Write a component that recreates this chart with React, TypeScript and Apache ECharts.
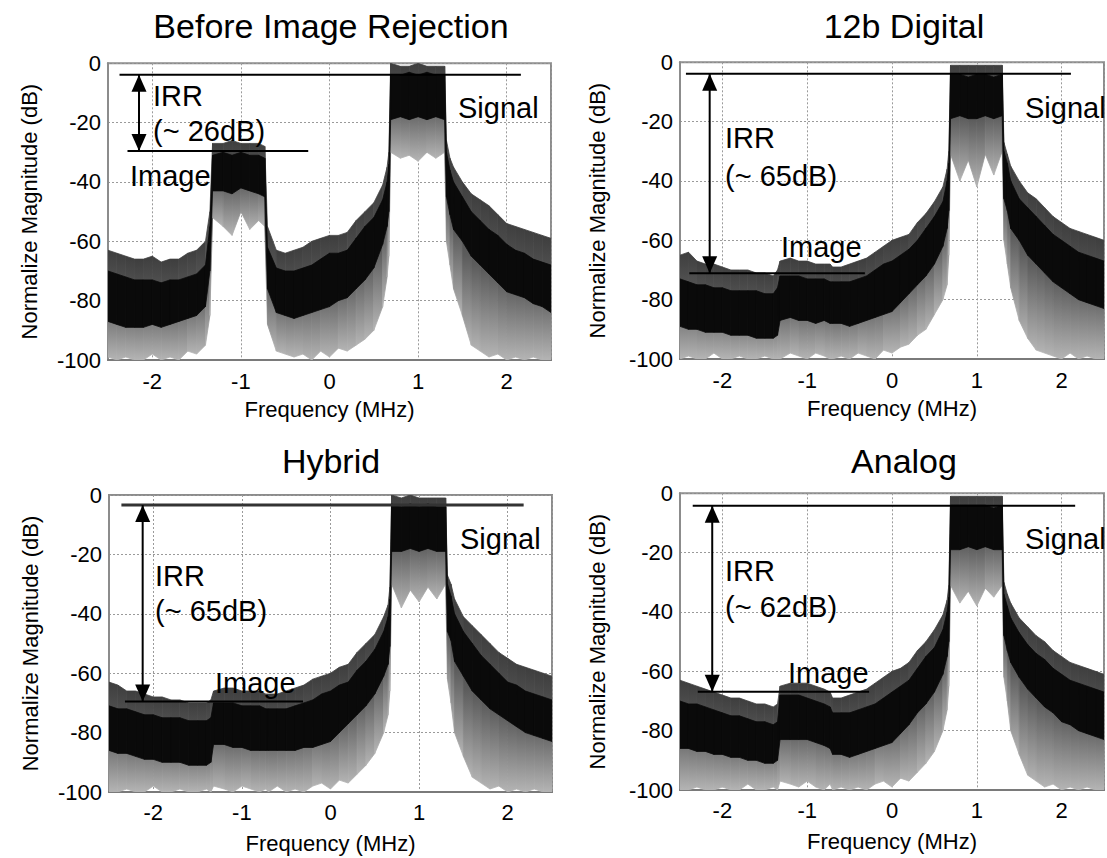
import React, { useEffect, useRef } from 'react';
import * as echarts from 'echarts';

const F = [-2.5, -2.4, -2.3, -2.2, -2.1, -2.0, -1.9, -1.8, -1.7, -1.6, -1.5, -1.4, -1.35, -1.32, -1.2, -1.1, -1.0, -0.9, -0.8, -0.73, -0.7, -0.6, -0.5, -0.4, -0.3, -0.2, -0.1, 0, 0.1, 0.2, 0.3, 0.4, 0.5, 0.6, 0.65, 0.67, 0.69, 0.8, 0.9, 1.0, 1.1, 1.2, 1.3, 1.32, 1.36, 1.4, 1.5, 1.6, 1.7, 1.8, 1.9, 2.0, 2.1, 2.2, 2.3, 2.4, 2.5];

// Panel 1: Before Image Rejection
const P1_CORE_HI = [-70, -71, -72, -73, -73, -73, -74, -73, -73, -72, -71, -68, -55, -31, -30, -31, -30, -31, -31, -32, -62, -69, -70, -70, -69, -68, -66, -64, -64, -63, -59, -55, -52, -46, -40, -34, -4, -4, -3, -4, -3, -4, -4, -30, -36, -40, -45, -50, -53, -56, -58, -61, -63, -64, -66, -67, -68];
const P1_CORE_LO = [-87, -88, -89, -89, -89, -88, -89, -88, -87, -86, -85, -82, -70, -43, -43, -44, -42, -43, -44, -45, -76, -84, -85, -86, -85, -84, -83, -82, -80, -79, -76, -73, -69, -61, -55, -50, -19, -18, -19, -18, -19, -18, -19, -45, -51, -56, -60, -65, -68, -71, -74, -77, -78, -79, -81, -82, -84];
const P1_GRAY_HI = [-63, -64, -65, -66, -66, -65, -67, -66, -66, -64, -63, -60, -50, -27, -27, -26, -27, -27, -27, -28, -55, -63, -64, -63, -62, -60, -59, -58, -58, -57, -53, -50, -47, -41, -35, -30, 0, -1, -1, 0, -1, -1, -1, -26, -32, -35, -40, -44, -46, -48, -51, -54, -55, -56, -57, -58, -59];
const P1_GRAY_LO = [-99, -100, -99, -100, -100, -98, -100, -99, -100, -97, -98, -95, -85, -52, -55, -58, -50, -56, -53, -55, -88, -97, -98, -99, -98, -100, -97, -99, -96, -97, -95, -93, -90, -82, -72, -65, -30, -32, -31, -33, -30, -32, -30, -60, -68, -76, -85, -95, -97, -99, -98, -100, -99, -100, -99, -100, -100];

// Panel 2: 12b Digital
const P2_CORE_HI = [-73, -74, -75, -75, -76, -76, -77, -77, -77, -77, -78, -78, -76, -72, -72, -72, -73, -73, -73, -74, -74, -74, -74, -73, -72, -70, -68, -67, -65, -63, -60, -56, -52, -47, -40, -34, -4, -4, -5, -4, -4, -5, -4, -30, -34, -40, -46, -49, -52, -55, -58, -60, -62, -64, -65, -66, -67];
const P2_CORE_LO = [-89, -90, -90, -91, -91, -91, -92, -92, -92, -93, -93, -93, -92, -87, -86, -87, -87, -88, -87, -88, -88, -88, -89, -88, -87, -86, -85, -84, -81, -78, -75, -72, -68, -62, -56, -50, -19, -18, -19, -19, -18, -19, -18, -46, -50, -56, -60, -65, -68, -71, -74, -76, -78, -80, -81, -82, -83];
const P2_GRAY_HI = [-65, -64, -67, -68, -68, -69, -70, -70, -70, -71, -71, -72, -70, -67, -66, -67, -67, -68, -68, -68, -69, -69, -68, -67, -66, -64, -62, -60, -59, -58, -54, -51, -47, -42, -36, -30, -1, -1, -1, -1, -1, -1, -1, -27, -31, -35, -40, -44, -46, -49, -52, -54, -56, -57, -58, -59, -60];
const P2_GRAY_LO = [-100, -99, -100, -100, -98, -100, -100, -99, -100, -100, -99, -100, -100, -100, -98, -99, -100, -98, -99, -100, -100, -99, -100, -98, -99, -100, -97, -98, -96, -95, -92, -90, -85, -80, -75, -65, -31, -40, -33, -42, -31, -38, -30, -60, -68, -76, -87, -93, -97, -98, -99, -100, -98, -100, -99, -100, -100];

// Panel 3: Hybrid
const P3_CORE_HI = [-71, -72, -72, -73, -74, -74, -75, -75, -75, -76, -76, -76, -75, -70, -70, -70, -71, -71, -71, -72, -72, -72, -72, -71, -70, -69, -67, -66, -64, -63, -59, -56, -52, -46, -41, -35, -3, -4, -3, -4, -3, -4, -4, -30, -34, -40, -46, -50, -54, -57, -60, -63, -64, -66, -67, -68, -69];
const P3_CORE_LO = [-86, -87, -87, -88, -89, -89, -90, -90, -90, -91, -91, -91, -90, -84, -84, -85, -85, -86, -86, -86, -86, -86, -86, -86, -85, -85, -84, -83, -80, -77, -74, -71, -67, -61, -57, -51, -19, -19, -18, -19, -18, -19, -19, -46, -49, -56, -61, -66, -69, -72, -74, -76, -78, -80, -81, -82, -83];
const P3_GRAY_HI = [-63, -64, -66, -66, -67, -68, -68, -69, -69, -70, -70, -70, -69, -66, -65, -65, -66, -66, -66, -67, -67, -67, -66, -65, -64, -62, -61, -60, -58, -57, -53, -50, -47, -41, -37, -31, 0, -1, 0, -1, -1, -1, -1, -27, -30, -35, -41, -44, -47, -50, -53, -55, -57, -58, -59, -60, -61];
const P3_GRAY_LO = [-100, -100, -99, -100, -100, -98, -100, -100, -99, -100, -100, -99, -100, -98, -99, -100, -98, -99, -100, -99, -100, -98, -100, -99, -100, -98, -97, -99, -96, -97, -94, -91, -87, -80, -74, -66, -30, -38, -32, -36, -31, -35, -30, -62, -70, -80, -88, -95, -97, -99, -98, -100, -99, -100, -99, -100, -100];

// Panel 4: Analog
const P4_CORE_HI = [-70, -71, -71, -72, -73, -74, -75, -75, -76, -77, -77, -78, -77, -68, -68, -68, -69, -70, -71, -72, -74, -74, -74, -73, -72, -71, -69, -67, -65, -63, -59, -55, -52, -46, -40, -35, -4, -4, -4, -4, -4, -5, -4, -34, -38, -42, -47, -51, -54, -56, -59, -61, -63, -64, -65, -66, -67];
const P4_CORE_LO = [-86, -86, -87, -87, -88, -88, -89, -89, -90, -90, -91, -91, -90, -83, -83, -83, -83, -84, -85, -86, -88, -88, -89, -88, -87, -86, -85, -84, -81, -78, -74, -71, -67, -61, -55, -50, -19, -19, -18, -19, -18, -19, -19, -48, -53, -57, -62, -66, -69, -72, -74, -77, -78, -80, -81, -82, -83];
const P4_GRAY_HI = [-63, -64, -65, -66, -67, -68, -69, -69, -70, -71, -71, -72, -71, -65, -64, -64, -64, -65, -66, -67, -69, -69, -68, -67, -66, -64, -62, -60, -59, -57, -53, -50, -46, -41, -36, -31, -1, -1, -1, -1, -1, -1, -1, -30, -34, -37, -42, -45, -48, -50, -53, -55, -57, -58, -59, -60, -61];
const P4_GRAY_LO = [-100, -100, -99, -100, -100, -99, -100, -100, -98, -100, -100, -99, -100, -97, -98, -99, -97, -99, -100, -98, -100, -99, -100, -99, -100, -98, -97, -99, -96, -97, -94, -91, -87, -80, -73, -65, -31, -37, -33, -38, -32, -35, -31, -62, -70, -80, -88, -95, -97, -99, -98, -100, -99, -100, -99, -100, -100];

const TITLES = ['Before Image Rejection', '12b Digital', 'Hybrid', 'Analog'];
const IRR_LABELS = ['(~ 26dB)', '(~ 65dB)', '(~ 65dB)', '(~ 62dB)'];
const SIGNAL_LEVEL = [-3.9, -3.9, -3.4, -4.2];
const IMAGE_LEVEL = [-29.6, -71.1, -69.5, -66.9];
const TOP_LINE_X = [[-2.37, 2.16], [-2.43, 2.11], [-2.36, 2.18], [-2.35, 2.16]];
const IMAGE_LINE_X = [[-2.28, -0.24], [-2.39, -0.32], [-2.32, -0.31], [-2.29, -0.27]];
const ARROW_X = [-2.15, -2.15, -2.12, -2.12];
const X_TICKS = [-2, -1, 0, 1, 2];
const Y_TICKS = [0, -20, -40, -60, -80, -100];

const PANELS = [
  { coreHi: P1_CORE_HI, coreLo: P1_CORE_LO, grayHi: P1_GRAY_HI, grayLo: P1_GRAY_LO },
  { coreHi: P2_CORE_HI, coreLo: P2_CORE_LO, grayHi: P2_GRAY_HI, grayLo: P2_GRAY_LO },
  { coreHi: P3_CORE_HI, coreLo: P3_CORE_LO, grayHi: P3_GRAY_HI, grayLo: P3_GRAY_LO },
  { coreHi: P4_CORE_HI, coreLo: P4_CORE_LO, grayHi: P4_GRAY_HI, grayLo: P4_GRAY_LO },
];

// ---- layout (pixels) ----
const FONT = '"Liberation Sans", Arial, Helvetica, sans-serif';
const GRIDS = [
  { left: 108, top: 63.3, width: 443, height: 296.7 },
  { left: 680, top: 62.3, width: 446, height: 296.7 },
  { left: 109, top: 495, width: 443, height: 297 },
  { left: 680, top: 493.3, width: 446, height: 296.7 },
];
const TITLE_POS = [
  { cx: 331, top: 9 },
  { cx: 904, top: 9 },
  { cx: 331, top: 444 },
  { cx: 904, top: 444 },
];
// top-left of annotation texts: IRR, (~ xxdB), Image, Signal
const ANNOT_POS = [
  [[153, 81], [153, 116.5], [130, 161.5], [458, 93.5]],
  [[725, 123.5], [725, 161.5], [781, 232.5], [1025, 93.5]],
  [[155, 561.5], [155, 596.5], [215, 668.5], [460, 524.5]],
  [[725, 556.5], [725, 592.5], [788, 658.5], [1025, 524.5]],
];
const Y_NAME_GAP = [68, 72, 68, 72];
const X_NAME_GAP = [38, 38, 40, 40];

const SPREAD_FILL = {
  type: 'linear',
  x: 0,
  y: 0,
  x2: 0,
  y2: 1,
  colorStops: [
    { offset: 0, color: '#3e3e3e' },
    { offset: 0.45, color: '#5c5c5c' },
    { offset: 1, color: '#b4b4b4' },
  ],
};

function bandRenderer(lo: number[], hi: number[], fill: any) {
  return (params: any, api: any) => {
    const k = params.dataIndex;
    if (k >= F.length - 1) return null;
    const a = api.coord([api.value(0), api.value(1)]);
    const b = api.coord([api.value(0), api.value(2)]);
    const c = api.coord([F[k + 1], hi[k + 1]]);
    const d = api.coord([F[k + 1], lo[k + 1]]);
    return {
      type: 'polygon',
      shape: { points: [a, b, c, d] },
      style: { fill, stroke: fill, lineWidth: 0.8 },
    };
  };
}

function buildOption(): any {
  const grid = GRIDS.map((g) => ({
    ...g,
    show: true,
    borderColor: '#8c8c8c',
    borderWidth: 2,
    backgroundColor: '#ffffff',
  }));

  const xAxis = GRIDS.map((_, i) => ({
    type: 'value',
    gridIndex: i,
    min: -2.5,
    max: 2.5,
    axisLine: { show: true, onZero: false, lineStyle: { color: '#7a7a7a', width: 2 } },
    axisTick: { show: false },
    splitLine: { show: true, lineStyle: { color: '#9a9a9a', width: 1, type: [2, 2] } },
    axisLabel: {
      color: '#000',
      fontSize: 22,
      fontFamily: FONT,
      margin: i < 2 ? 10 : 9,
      formatter: (v: number) => (X_TICKS.indexOf(Math.round(v * 1000) / 1000) >= 0 ? String(Math.round(v)) : ''),
    },
    name: 'Frequency (MHz)',
    nameLocation: 'middle',
    nameGap: X_NAME_GAP[i],
    nameTextStyle: { color: '#000', fontSize: 22, fontFamily: FONT },
  }));

  const yAxis = GRIDS.map((_, i) => ({
    type: 'value',
    gridIndex: i,
    min: -100,
    max: 0,
    interval: 20,
    axisLine: { show: true, onZero: false, lineStyle: { color: '#8c8c8c', width: 2 } },
    axisTick: { show: false },
    splitLine: { show: true, lineStyle: { color: '#9a9a9a', width: 1, type: [2, 2] } },
    axisLabel: {
      color: '#000',
      fontSize: 22,
      fontFamily: FONT,
      margin: 7,
      formatter: (v: number) => (Y_TICKS.indexOf(v) >= 0 ? String(v) : ''),
    },
    name: 'Normalize Magnitude (dB)',
    nameLocation: 'middle',
    nameRotate: 90,
    nameGap: Y_NAME_GAP[i],
    nameTextStyle: { color: '#000', fontSize: 22, fontFamily: FONT },
  }));

  const series: any[] = [];
  PANELS.forEach((p, i) => {
    series.push({
      type: 'custom',
      name: 'spread-' + i,
      coordinateSystem: 'cartesian2d',
      xAxisIndex: i,
      yAxisIndex: i,
      silent: true,
      z: 2,
      clip: true,
      data: F.map((f, k) => [f, p.grayLo[k], p.grayHi[k]]),
      encode: { x: 0, y: [1, 2] },
      renderItem: bandRenderer(p.grayLo, p.grayHi, SPREAD_FILL),
    });
    series.push({
      type: 'custom',
      name: 'core-' + i,
      coordinateSystem: 'cartesian2d',
      xAxisIndex: i,
      yAxisIndex: i,
      silent: true,
      z: 3,
      clip: true,
      data: F.map((f, k) => [f, p.coreLo[k], p.coreHi[k]]),
      encode: { x: 0, y: [1, 2] },
      renderItem: bandRenderer(p.coreLo, p.coreHi, '#0a0a0a'),
    });
    series.push({
      type: 'line',
      xAxisIndex: i,
      yAxisIndex: i,
      silent: true,
      z: 5,
      showSymbol: false,
      lineStyle: { color: i === 2 ? '#333' : '#000', width: i === 2 ? 3 : 2 },
      data: [[TOP_LINE_X[i][0], SIGNAL_LEVEL[i]], [TOP_LINE_X[i][1], SIGNAL_LEVEL[i]]],
    });
    series.push({
      type: 'line',
      xAxisIndex: i,
      yAxisIndex: i,
      silent: true,
      z: 5,
      showSymbol: false,
      lineStyle: { color: '#000', width: 2 },
      data: [[IMAGE_LINE_X[i][0], IMAGE_LEVEL[i]], [IMAGE_LINE_X[i][1], IMAGE_LEVEL[i]]],
    });
    series.push({
      type: 'line',
      xAxisIndex: i,
      yAxisIndex: i,
      silent: true,
      z: 6,
      showSymbol: true,
      clip: false,
      lineStyle: { color: '#000', width: 2 },
      itemStyle: { color: '#000', borderWidth: 0 },
      data: [
        { value: [ARROW_X[i], SIGNAL_LEVEL[i]], symbol: 'triangle', symbolSize: [15, 17], symbolRotate: 0, symbolOffset: [0, 8.5] },
        { value: [ARROW_X[i], IMAGE_LEVEL[i]], symbol: 'triangle', symbolSize: [15, 17], symbolRotate: 180, symbolOffset: [0, -8.5] },
      ],
    });
  });

  const annotText = (x: number, y: number, text: string) => ({
    type: 'text',
    x,
    y,
    z: 100,
    silent: true,
    style: {
      text,
      fill: '#000',
      font: `29px ${FONT}`,
      align: 'left',
      verticalAlign: 'top',
      textAlign: 'left',
      textVerticalAlign: 'top',
    },
  });

  const graphic: any[] = [];
  ANNOT_POS.forEach((pos, i) => {
    graphic.push(annotText(pos[0][0], pos[0][1], 'IRR'));
    graphic.push(annotText(pos[1][0], pos[1][1], IRR_LABELS[i]));
    graphic.push(annotText(pos[2][0], pos[2][1], 'Image'));
    graphic.push(annotText(pos[3][0], pos[3][1], 'Signal'));
  });

  const title = TITLES.map((t, i) => ({
    text: t,
    left: TITLE_POS[i].cx,
    top: TITLE_POS[i].top,
    textAlign: 'center',
    padding: 0,
    textStyle: { color: '#000', fontSize: 34, fontWeight: 'normal', fontFamily: FONT },
  }));

  return {
    animation: false,
    backgroundColor: '#ffffff',
    title,
    grid,
    xAxis,
    yAxis,
    series,
    graphic,
  };
}

export default function App() {
  const ref = useRef<HTMLDivElement>(null);
  useEffect(() => {
    if (!ref.current) return;
    const chart = echarts.init(ref.current, null, { renderer: 'svg' });
    chart.setOption(buildOption());
    return () => {
      chart.dispose();
    };
  }, []);
  return (
    <div
      ref={ref}
      style={{ position: 'fixed', left: 0, top: 0, width: 1107, height: 858, background: '#fff', overflow: 'hidden' }}
    />
  );
}
